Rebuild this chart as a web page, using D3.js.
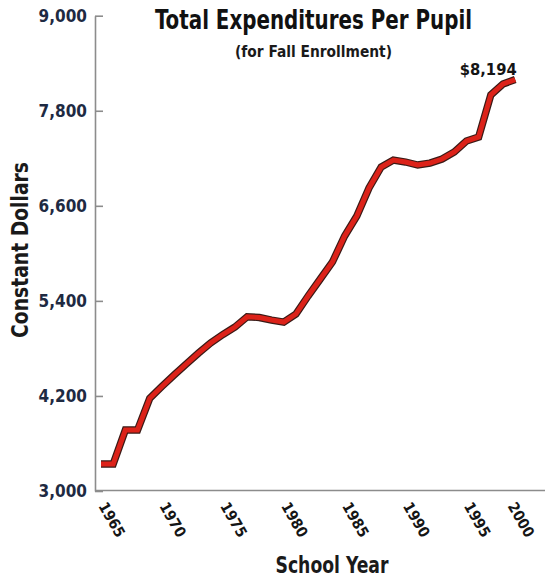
<!DOCTYPE html>
<html>
<head>
<meta charset="utf-8">
<script src="https://cdn.jsdelivr.net/npm/d3@7"></script>
<style>
  html, body { margin: 0; padding: 0; background: #fff; }
  svg { display: block; }
</style>
</head>
<body>
<div id="chart"></div>
<script>
// School years and constant-dollar spending per pupil
const years = [1965, 1966, 1967, 1968, 1969, 1970, 1971, 1972, 1973, 1974,
               1975, 1976, 1977, 1978, 1979, 1980, 1981, 1982, 1983, 1984,
               1985, 1986, 1987, 1988, 1989, 1990, 1991, 1992, 1993, 1994,
               1995, 1996, 1997, 1998, 1999];
const spending = [3341, 3341, 3770, 3770, 4170, 4320, 4464, 4603, 4740, 4868,
                  4975, 5070, 5200, 5190, 5158, 5133, 5234, 5461, 5676, 5891,
                  6219, 6471, 6825, 7090, 7178, 7153, 7115, 7140, 7191, 7279,
                  7418, 7469, 8000, 8138, 8194];
const yTicks = [3000, 4200, 5400, 6600, 7800, 9000];
const xTicks = [1965, 1970, 1975, 1980, 1985, 1990, 1995, 2000];

const W = 545, H = 579;
const svg = d3.select("#chart").append("svg")
  .attr("width", W).attr("height", H);

const x = d3.scaleLinear().domain([1965, 1999]).range([101, 515.2]);
const y = d3.scaleLinear().domain([3000, 9000]).range([491, 15.7]);
const axisX = 95;

const narrow = "'Liberation Sans Narrow', 'DejaVu Sans Condensed', 'Liberation Sans', sans-serif";

// Title block
svg.append("text")
  .attr("x", 313.5).attr("y", 29)
  .attr("text-anchor", "middle")
  .attr("font-family", narrow).attr("font-weight", "bold")
  .attr("font-size", 27).attr("fill", "#111")
  .attr("textLength", 317).attr("lengthAdjust", "spacingAndGlyphs")
  .text("Total Expenditures Per Pupil");

svg.append("text")
  .attr("x", 313.5).attr("y", 57)
  .attr("text-anchor", "middle")
  .attr("font-family", narrow).attr("font-weight", "bold")
  .attr("font-size", 15).attr("fill", "#1a1a1a")
  .attr("textLength", 157).attr("lengthAdjust", "spacingAndGlyphs")
  .text("(for Fall Enrollment)");

// Y axis with inward ticks
const yAxis = d3.axisLeft(y)
  .tickValues(yTicks)
  .tickFormat(d3.format(",d"))
  .tickSizeInner(-8)
  .tickSizeOuter(0)
  .tickPadding(8);

const gy = svg.append("g")
  .attr("transform", `translate(${axisX},0)`)
  .call(yAxis);
gy.select(".domain").attr("stroke", "#8c8c8c").attr("stroke-width", 1.6);
gy.selectAll(".tick line").attr("stroke", "#8c8c8c").attr("stroke-width", 1.6);
gy.selectAll(".tick text")
  .attr("font-family", "'DejaVu Sans Condensed', 'DejaVu Sans', sans-serif")
  .attr("font-weight", "bold")
  .attr("font-size", 17)
  .attr("fill", "#1e2a42");

// X axis baseline and rotated year labels
const baseY = 490.5;
svg.append("line")
  .attr("x1", axisX).attr("x2", W)
  .attr("y1", baseY).attr("y2", baseY)
  .attr("stroke", "#8c8c8c").attr("stroke-width", 1.6);

const xScaleFull = d3.scaleLinear().domain([1965, 2000]).range([x(1965), x(2000)]);
const angle = 60, rad = angle * Math.PI / 180;
const xl = svg.append("g").selectAll("text")
  .data(xTicks).join("text")
  .attr("text-anchor", "start")
  .attr("font-family", narrow).attr("font-weight", "bold")
  .attr("font-size", 15).attr("fill", "#151515")
  .text(d => d);
// keep each rotated label inside the canvas with a small margin
xl.attr("transform", function(d) {
  const len = this.getComputedTextLength();
  const reach = len * Math.cos(rad) + 15 * Math.sin(rad);
  const ax = Math.min(xScaleFull(d) - 3, W - 6 - reach);
  return `translate(${ax},506) rotate(${angle})`;
});

// Axis titles
svg.append("text")
  .attr("transform", "translate(28,250) rotate(-90)")
  .attr("text-anchor", "middle")
  .attr("font-family", narrow).attr("font-weight", "bold")
  .attr("font-size", 23).attr("fill", "#1a1a1a")
  .attr("textLength", 176).attr("lengthAdjust", "spacingAndGlyphs")
  .text("Constant Dollars");

svg.append("text")
  .attr("x", 332).attr("y", 573)
  .attr("text-anchor", "middle")
  .attr("font-family", narrow).attr("font-weight", "bold")
  .attr("font-size", 23).attr("fill", "#1a1a1a")
  .attr("textLength", 113).attr("lengthAdjust", "spacingAndGlyphs")
  .text("School Year");

// Spending line: dark casing under a red stroke
const line = d3.line()
  .x((d, i) => x(years[i]))
  .y(d => y(d));

svg.append("path")
  .datum(spending)
  .attr("d", line)
  .attr("fill", "none")
  .attr("stroke", "#3a1a16")
  .attr("stroke-width", 7.4)
  .attr("stroke-linejoin", "miter");

svg.append("path")
  .datum(spending)
  .attr("d", line)
  .attr("fill", "none")
  .attr("stroke", "#dc2219")
  .attr("stroke-width", 5)
  .attr("stroke-linejoin", "miter");

// End value label
const lastI = spending.length - 1;
svg.append("text")
  .attr("x", x(years[lastI]) - 27)
  .attr("y", y(spending[lastI]) - 5)
  .attr("text-anchor", "middle")
  .attr("font-family", narrow).attr("font-weight", "bold")
  .attr("font-size", 16).attr("fill", "#151515")
  .attr("textLength", 57).attr("lengthAdjust", "spacingAndGlyphs")
  .text("$" + d3.format(",d")(spending[lastI]));
</script>
</body>
</html>
